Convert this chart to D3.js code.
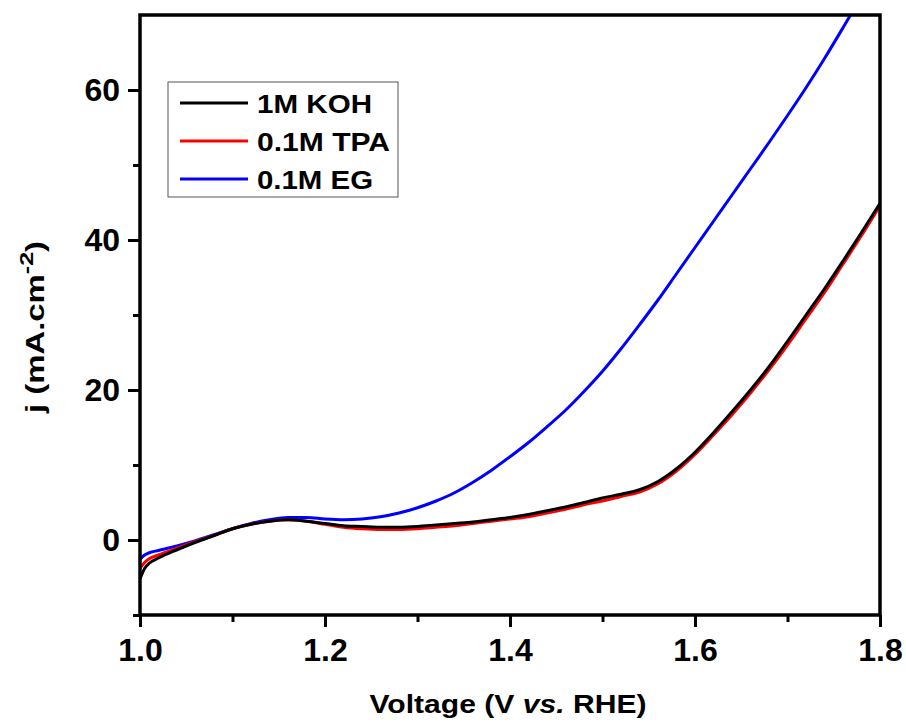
<!DOCTYPE html>
<html>
<head>
<meta charset="utf-8">
<script src="https://cdn.jsdelivr.net/npm/d3@7"></script>
<style>
  body { margin: 0; background: #fff; }
  text { font-family: "Liberation Sans", Arial, sans-serif; font-weight: bold; }
</style>
</head>
<body>
<div id="chart"></div>
<script>
// potentials (V vs. RHE)
const voltage = [1.0, 1.005, 1.01, 1.02, 1.04, 1.06, 1.08, 1.10, 1.12, 1.14, 1.16, 1.18, 1.20,
  1.22, 1.24, 1.26, 1.28, 1.30, 1.32, 1.34, 1.36, 1.38, 1.40, 1.42, 1.44, 1.46, 1.48, 1.50,
  1.52, 1.54, 1.56, 1.58, 1.60, 1.62, 1.64, 1.66, 1.68, 1.70, 1.72, 1.74, 1.76, 1.78, 1.80];

// current density (mA.cm-2)
const koh = [-5.2, -3.8, -3.1, -2.4, -1.3, -0.3, 0.6, 1.5, 2.1, 2.5, 2.7, 2.5, 2.2,
  1.9, 1.8, 1.7, 1.7, 1.8, 2.0, 2.2, 2.4, 2.7, 3.0, 3.4, 3.9, 4.4, 5.0, 5.6,
  6.1, 6.7, 7.8, 9.5, 11.7, 14.3, 17.1, 20.0, 23.1, 26.5, 30.0, 33.5, 37.2, 41.0, 44.9];
const tpa = [-3.8, -3.0, -2.5, -2.0, -1.1, -0.2, 0.6, 1.5, 2.1, 2.5, 2.7, 2.5, 2.1,
  1.7, 1.5, 1.4, 1.4, 1.5, 1.7, 1.9, 2.2, 2.5, 2.8, 3.1, 3.6, 4.1, 4.7, 5.2,
  5.8, 6.4, 7.5, 9.2, 11.4, 14.0, 16.7, 19.6, 22.7, 26.0, 29.5, 33.0, 36.8, 40.6, 44.6];
const eg = [-2.6, -2.0, -1.7, -1.4, -0.8, -0.1, 0.7, 1.5, 2.2, 2.7, 3.0, 3.0, 2.8,
  2.7, 2.8, 3.1, 3.6, 4.3, 5.2, 6.3, 7.7, 9.3, 11.1, 13.0, 15.1, 17.3, 19.8, 22.5,
  25.5, 28.7, 32.0, 35.5, 39.0, 42.5, 46.0, 49.5, 53.0, 56.6, 60.3, 64.2, 68.3, 72.5, 76.8];

const seriesNames = ["1M KOH", "0.1M TPA", "0.1M EG"];
const seriesColors = ["#000000", "#ff0000", "#0000ff"];
const seriesValues = [koh, tpa, eg];
const legendWidths = [115, 133, 116];

const xTicks = [1.0, 1.2, 1.4, 1.6, 1.8];
const yTicks = [0, 20, 40, 60];

const width = 906, height = 723;
const plot = { left: 140, right: 880, top: 15, bottom: 615 };

const svg = d3.select("#chart").append("svg")
    .attr("width", width)
    .attr("height", height);

const x = d3.scaleLinear().domain([1.0, 1.8]).range([plot.left, plot.right]);
const y = d3.scaleLinear().domain([-10, 70]).range([plot.bottom, plot.top]);

svg.append("clipPath").attr("id", "clip")
  .append("rect")
    .attr("x", plot.left).attr("y", plot.top)
    .attr("width", plot.right - plot.left).attr("height", plot.bottom - plot.top);

// curves (drawn in reverse so KOH sits on top of TPA)
const line = d3.line()
    .x(d => x(d[0]))
    .y(d => y(d[1]))
    .curve(d3.curveMonotoneX);

const curves = svg.append("g").attr("clip-path", "url(#clip)");
[2, 1, 0].forEach(k => {
  curves.append("path")
      .datum(voltage.map((v, i) => [v, seriesValues[k][i]]))
      .attr("fill", "none")
      .attr("stroke", seriesColors[k])
      .attr("stroke-width", 3)
      .attr("d", line);
});

// axes
const xAxis = svg.append("g")
    .attr("transform", `translate(0,${plot.bottom})`)
    .call(d3.axisBottom(x).tickValues(xTicks).tickSize(12).tickPadding(11).tickFormat(d3.format(".1f")));
xAxis.selectAll(".tick line").attr("stroke-width", 3);
xAxis.selectAll("text").attr("font-size", 32).attr("fill", "#000");
xAxis.select(".domain").remove();

svg.append("g")
    .attr("transform", `translate(0,${plot.bottom})`)
    .call(d3.axisBottom(x).tickValues([1.1, 1.3, 1.5, 1.7]).tickSize(7).tickFormat(""))
    .call(g => g.select(".domain").remove())
    .selectAll(".tick line").attr("stroke-width", 3);

const yAxis = svg.append("g")
    .attr("transform", `translate(${plot.left},0)`)
    .call(d3.axisLeft(y).tickValues(yTicks).tickSize(12).tickPadding(8));
yAxis.selectAll(".tick line").attr("stroke-width", 3);
yAxis.selectAll("text").attr("font-size", 32).attr("fill", "#000");
yAxis.select(".domain").remove();

svg.append("g")
    .attr("transform", `translate(${plot.left},0)`)
    .call(d3.axisLeft(y).tickValues([-10, 10, 30, 50]).tickSize(7).tickFormat(""))
    .call(g => g.select(".domain").remove())
    .selectAll(".tick line").attr("stroke-width", 3);

// frame
svg.append("rect")
    .attr("x", plot.left).attr("y", plot.top)
    .attr("width", plot.right - plot.left).attr("height", plot.bottom - plot.top)
    .attr("fill", "none")
    .attr("stroke", "#000")
    .attr("stroke-width", 3.5);

// axis titles
const xTitle = svg.append("text")
    .attr("x", 508)
    .attr("y", 713)
    .attr("text-anchor", "middle")
    .attr("font-size", 25)
    .attr("textLength", 277)
    .attr("lengthAdjust", "spacingAndGlyphs");
xTitle.append("tspan").text("Voltage (V ");
xTitle.append("tspan").attr("font-style", "italic").text("vs.");
xTitle.append("tspan").text(" RHE)");

const yTitle = svg.append("text")
    .attr("transform", "translate(44,327) rotate(-90)")
    .attr("text-anchor", "middle")
    .attr("font-size", 25)
    .attr("textLength", 172)
    .attr("lengthAdjust", "spacingAndGlyphs");
yTitle.append("tspan").text("j (mA.cm");
yTitle.append("tspan").attr("font-size", 19).attr("dy", -11).text("-2");
yTitle.append("tspan").attr("dy", 11).text(")");

// legend
const legend = svg.append("g");
legend.append("rect")
    .attr("x", 168).attr("y", 82)
    .attr("width", 230).attr("height", 115)
    .attr("fill", "#fff")
    .attr("stroke", "#555")
    .attr("stroke-width", 1);

seriesNames.forEach((name, k) => {
  const ly = 103 + k * 38;
  legend.append("line")
      .attr("x1", 180).attr("x2", 248)
      .attr("y1", ly).attr("y2", ly)
      .attr("stroke", seriesColors[k])
      .attr("stroke-width", 3);
  legend.append("text")
      .attr("x", 257).attr("y", ly + 10)
      .attr("font-size", 26)
      .attr("textLength", legendWidths[k])
      .attr("lengthAdjust", "spacingAndGlyphs")
      .text(name);
});
</script>
</body>
</html>
